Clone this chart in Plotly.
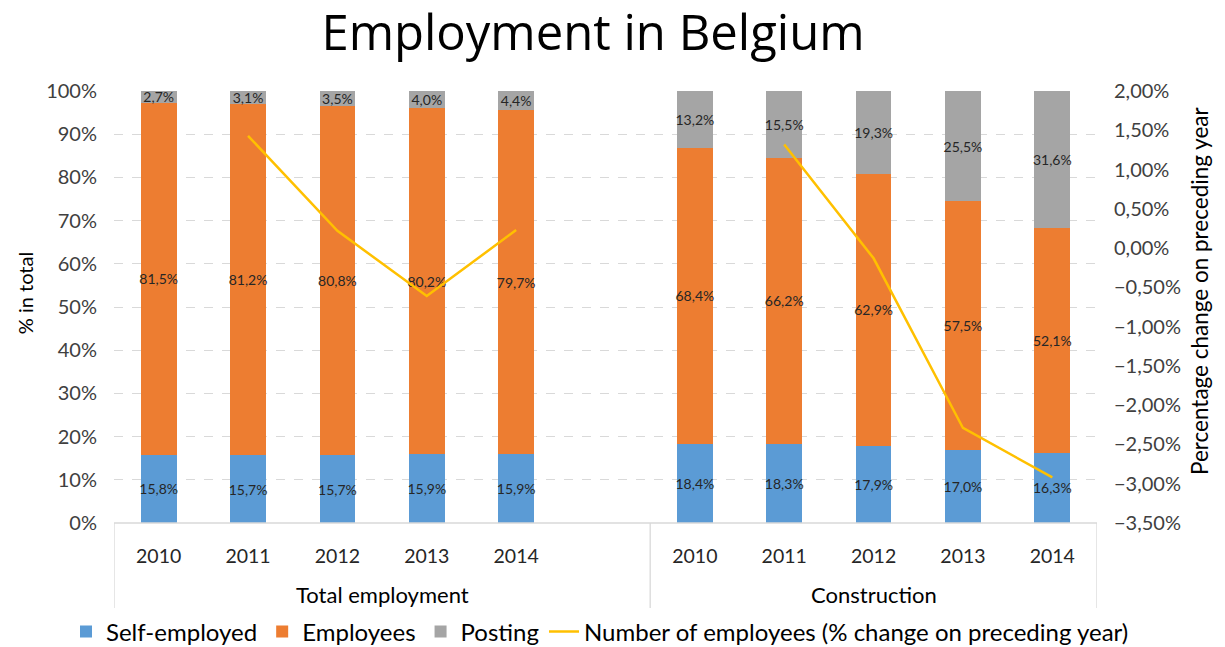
import plotly.graph_objects as go

years = ["2010", "2011", "2012", "2013", "2014"]
groups = ["Total employment", "Construction"]

self_total = [15.8, 15.7, 15.7, 15.9, 15.9]
emp_total = [81.5, 81.2, 80.8, 80.2, 79.7]
post_total = [2.7, 3.1, 3.5, 4.0, 4.4]
change_total = [None, 1.43, 0.22, -0.61, 0.23]

self_constr = [18.4, 18.3, 17.9, 17.0, 16.3]
emp_constr = [68.4, 66.2, 62.9, 57.5, 52.1]
post_constr = [13.2, 15.5, 19.3, 25.5, 31.6]
change_constr = [None, 1.32, -0.13, -2.29, -2.92]

# positions: group 1 = 0..4, blank slot 5, group 2 = 6..10
n = len(years)
xpos = list(range(n)) + list(range(n + 1, 2 * n + 1))
xall = list(range(n)) + [n] + list(range(n + 1, 2 * n + 1))


def frac(a, b):
    return [None if v is None else v / 100 for v in a] + [None] + [None if v is None else v / 100 for v in b]


BLUE, ORANGE, GRAY, GOLD = "#5B9BD5", "#ED7D31", "#A5A5A5", "#FFC000"
FONT = "Lato"
W, H = 1217, 639
L, R, T, B = 106, 128, 83, 124
PW, PH = W - L - R, H - T - B

fig = go.Figure()
for name, a, b, col in [("Self-employed", self_total, self_constr, BLUE),
                        ("Employees", emp_total, emp_constr, ORANGE),
                        ("Posting", post_total, post_constr, GRAY)]:
    fig.add_trace(go.Bar(
        x=xall, y=frac(a, b), name=name, marker=dict(color=col, line=dict(width=0)),
        width=0.4, texttemplate="%{y:.1%}", textposition="inside",
        insidetextanchor="middle", textangle=0,
        textfont=dict(color="#262626", size=14, family=FONT),
        hoverinfo="skip"))

fig.add_trace(go.Scatter(
    x=xall, y=frac(change_total, change_constr), name="Number of employees (% change on preceding year)",
    mode="lines", line=dict(color=GOLD, width=2.5), yaxis="y2", connectgaps=False))

fig.update_layout(
    width=W, height=H,
    barmode="stack", separators=", ",
    paper_bgcolor="white", plot_bgcolor="white",
    margin=dict(l=L, r=R, t=T, b=B, autoexpand=False),
    font=dict(family=FONT, color="#262626"),
    uniformtext=dict(minsize=14, mode="show"),
    title=dict(text="Employment in Belgium", x=(585 / W), xanchor="center", y=0.961, yanchor="middle",
               font=dict(size=49, color="#000000", family="Open Sans")),
    xaxis=dict(range=[-0.5, 2 * n + 0.5], tickvals=xpos, ticktext=years + years,
               showgrid=False, zeroline=False, showline=False, tickangle=0,
               ticks="outside", ticklen=16, tickcolor="rgba(0,0,0,0)",
               tickfont=dict(size=19.5, color="#262626")),
    yaxis=dict(range=[0, 1], dtick=0.1, tickformat=".0%", showgrid=True,
               gridcolor="#D9D9D9", griddash="dash", gridwidth=1,
               zeroline=False, showline=False, ticklabelstandoff=16,
               tickfont=dict(size=20, color="#404040")),
    yaxis2=dict(overlaying="y", side="right", range=[-0.035, 0.02], dtick=0.005,
                tickformat=".2%", showgrid=False, zeroline=False, showline=False,
                ticklabelstandoff=16, tickfont=dict(size=20, color="#404040")),
    legend=dict(orientation="h", xref="paper", x=(58 - L) / PW, xanchor="left",
                yref="paper", y=-0.252, yanchor="middle", font=dict(size=24, color="#000000"),
                traceorder="normal", itemwidth=30),
)

# axis titles
fig.add_annotation(text="% in total", xref="paper", yref="paper", x=(17 - L) / PW, y=0.532,
                   textangle=-90, showarrow=False, xanchor="center", yanchor="middle",
                   font=dict(size=20, color="#000000"))
fig.add_annotation(text="Percentage change on preceding year", xref="paper", yref="paper",
                   x=(1191 - L) / PW, y=0.537, textangle=-90, showarrow=False,
                   xanchor="center", yanchor="middle", font=dict(size=22.5, color="#000000"))

# category axis frame (zero line + group separators)
line_col = "#D9D9D9"
fig.add_shape(type="line", xref="x", yref="paper", x0=-0.5, x1=2 * n + 0.5, y0=0, y1=0,
              line=dict(color=line_col, width=1.3))
for xs in [-0.5, n + 0.5, 2 * n + 0.5]:
    fig.add_shape(type="line", xref="x", yref="paper", x0=xs, x1=xs, y0=0, y1=-85 / PH,
                  line=dict(color=line_col, width=1.3))

group_centers = [n / 2, (n + 1 + 2 * n) / 2]
for g, cx in zip(groups, group_centers):
    fig.add_annotation(text=g, x=cx, xref="x", y=-71 / PH, yref="paper", showarrow=False,
                       yanchor="middle", font=dict(size=22, color="#000000"))

fig.write_html("out.html")
